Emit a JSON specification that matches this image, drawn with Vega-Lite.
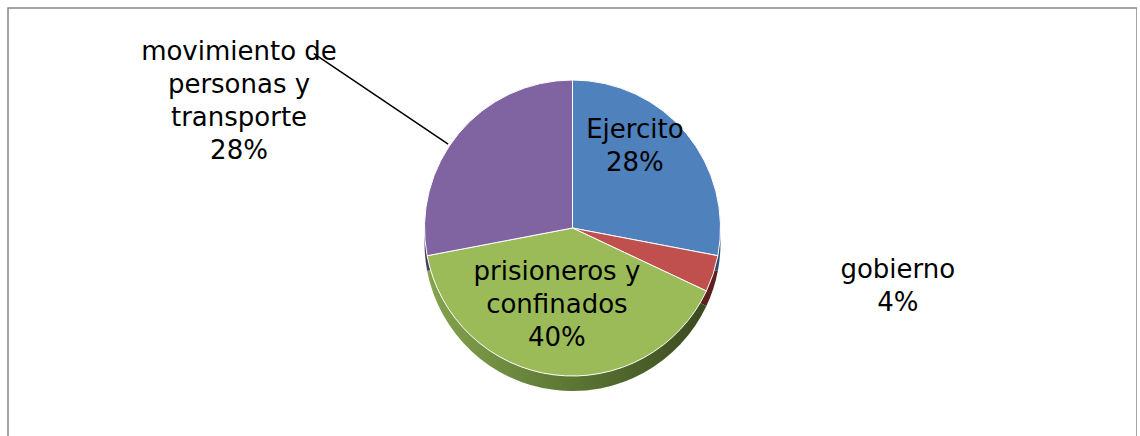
{
  "$schema": "https://vega.github.io/schema/vega-lite/v6.json",
  "width": 1129,
  "height": 440,
  "autosize": "none",
  "padding": {"left": 8, "top": 8, "right": 0, "bottom": 0},
  "background": "white",
  "config": {
    "view": {"stroke": null},
    "text": {"font": "DejaVu Sans", "fontSize": 26, "lineHeight": 33, "lineBreak": "\n", "color": "black"}
  },
  "data": {
    "values": [
      {"k": "Ejercito", "i": 1, "v": 28, "label": "Ejercito\n28%"},
      {"k": "gobierno", "i": 2, "v": 4, "label": "gobierno\n4%"},
      {"k": "prisioneros y confinados", "i": 3, "v": 40, "label": "prisioneros y\nconfinados\n40%"},
      {"k": "movimiento de personas y transporte", "i": 4, "v": 28, "label": "movimiento de\npersonas y\ntransporte\n28%"}
    ]
  },
  "layer": [
    {
      "data": {"values": [{"frame": "border"}]},
      "mark": {"type": "rect", "fill": null, "stroke": "#868686", "strokeWidth": 1.5},
      "encoding": {}
    },
    {
      "mark": {"type": "arc", "radius": 148, "yOffset": 15, "stroke": null},
      "encoding": {
        "theta": {"field": "v", "type": "quantitative", "stack": true},
        "order": {"field": "i", "type": "quantitative"},
        "detail": {"field": "k", "type": "nominal"},
        "fill": {
          "condition": [
            {"test": "datum.k === 'gobierno'", "value": "#5e201f"},
            {"test": "datum.k === 'Ejercito'", "value": "#2c4d75"},
            {"test": "datum.k === 'movimiento de personas y transporte'", "value": "#4c3b62"}
          ],
          "value": {
            "gradient": "linear", "x1": 0, "y1": 0, "x2": 1, "y2": 0,
            "stops": [
              {"offset": 0, "color": "#86a34f"},
              {"offset": 0.5, "color": "#5d7834"},
              {"offset": 1, "color": "#3b4a20"}
            ]
          }
        }
      }
    },
    {
      "mark": {"type": "arc", "radius": 148, "stroke": "white", "strokeWidth": 1},
      "encoding": {
        "theta": {"field": "v", "type": "quantitative", "stack": true},
        "order": {"field": "i", "type": "quantitative"},
        "color": {
          "field": "k", "type": "nominal", "legend": null,
          "scale": {
            "domain": ["Ejercito", "gobierno", "prisioneros y confinados", "movimiento de personas y transporte"],
            "range": ["#4f81bd", "#c0504d", "#9bbb59", "#8064a2"]
          }
        }
      }
    },
    {
      "transform": [
        {"stack": "v", "groupby": [], "sort": [{"field": "i", "order": "ascending"}], "as": ["s0", "s1"]},
        {"filter": "datum.k === 'movimiento de personas y transporte'"}
      ],
      "mark": {"type": "arc", "radius": 312, "radius2": 150, "thetaOffset": 0.7819, "theta2Offset": 0.7819, "fill": null, "stroke": "black", "strokeWidth": 1.5},
      "encoding": {
        "theta": {"field": "s0", "type": "quantitative"},
        "theta2": {"field": "s0"}
      }
    },
    {
      "mark": {"type": "text", "radius": 116, "thetaOffset": -0.312, "baseline": "middle", "align": "center"},
      "encoding": {
        "theta": {"field": "v", "type": "quantitative", "stack": true},
        "order": {"field": "i", "type": "quantitative"},
        "detail": {"field": "k", "type": "nominal"},
        "text": {"field": "label"},
        "opacity": {"condition": {"test": "datum.k === 'Ejercito'", "value": 1}, "value": 0}
      }
    },
    {
      "mark": {"type": "text", "radius": 328, "thetaOffset": -0.186, "baseline": "middle", "align": "center"},
      "encoding": {
        "theta": {"field": "v", "type": "quantitative", "stack": true},
        "order": {"field": "i", "type": "quantitative"},
        "detail": {"field": "k", "type": "nominal"},
        "text": {"field": "label"},
        "opacity": {"condition": {"test": "datum.k === 'gobierno'", "value": 1}, "value": 0}
      }
    },
    {
      "mark": {"type": "text", "radius": 47, "thetaOffset": 0.213, "baseline": "middle", "align": "center"},
      "encoding": {
        "theta": {"field": "v", "type": "quantitative", "stack": true},
        "order": {"field": "i", "type": "quantitative"},
        "detail": {"field": "k", "type": "nominal"},
        "text": {"field": "label"},
        "opacity": {"condition": {"test": "datum.k === 'prisioneros y confinados'", "value": 1}, "value": 0}
      }
    },
    {
      "mark": {"type": "text", "radius": 377, "thetaOffset": -0.206, "baseline": "middle", "align": "center"},
      "encoding": {
        "theta": {"field": "v", "type": "quantitative", "stack": true},
        "order": {"field": "i", "type": "quantitative"},
        "detail": {"field": "k", "type": "nominal"},
        "text": {"field": "label"},
        "opacity": {"condition": {"test": "datum.k === 'movimiento de personas y transporte'", "value": 1}, "value": 0}
      }
    }
  ]
}
